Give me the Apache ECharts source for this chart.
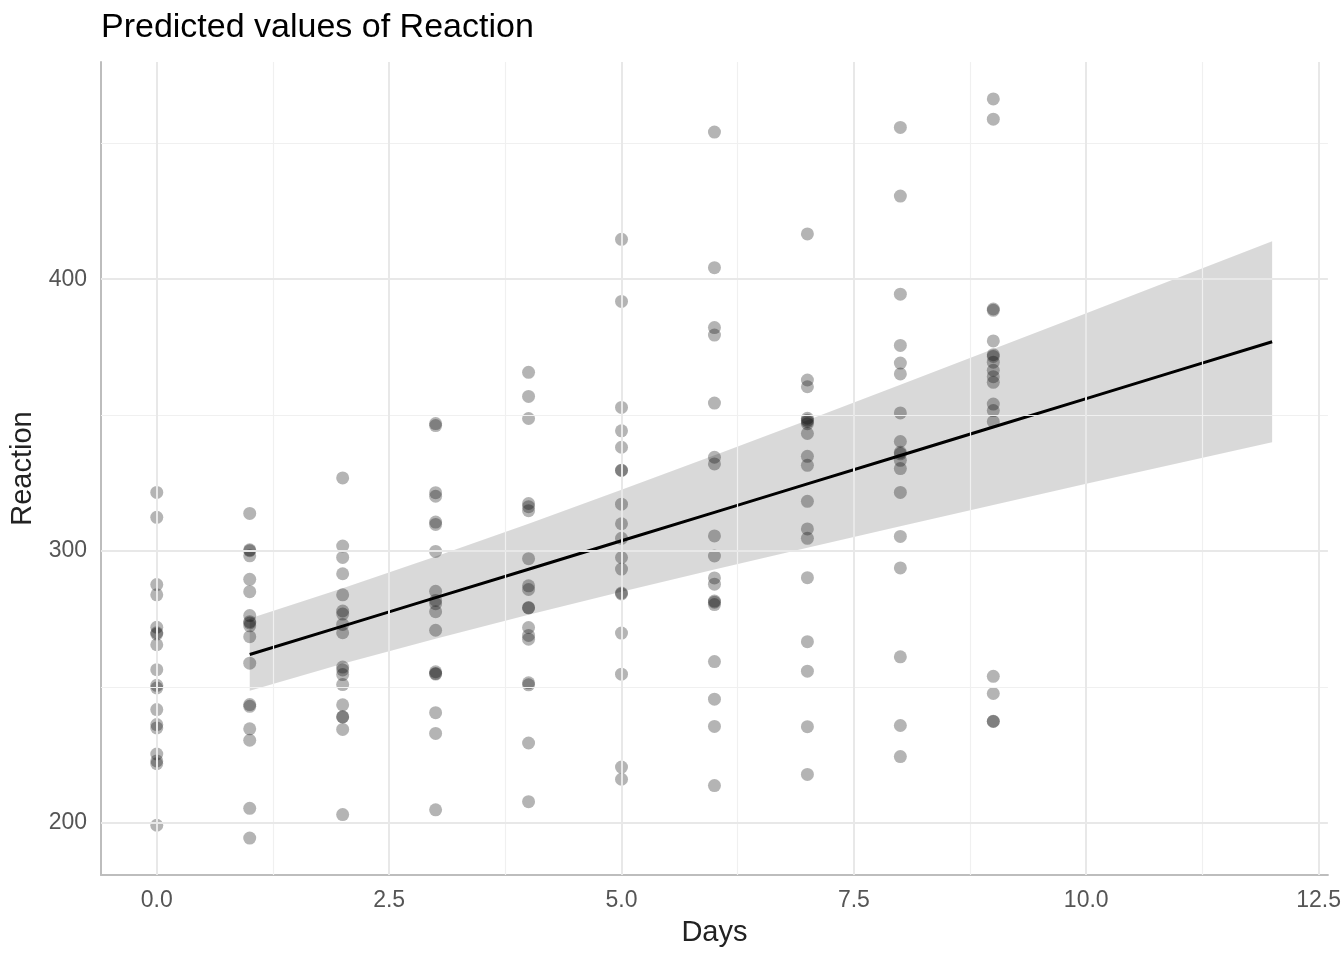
<!DOCTYPE html>
<html>
<head>
<meta charset="utf-8">
<script src="https://cdn.jsdelivr.net/npm/echarts@6/dist/echarts.min.js"></script>
<style>
html,body{margin:0;padding:0;background:#fff;}
#chart{width:1344px;height:960px;}
</style>
</head>
<body>
<div id="chart"></div>
<script>
// Observed data: Reaction per subject, days 0..9
const days = [0,1,2,3,4,5,6,7,8,9];
const subjects = ['308','309','310','330','331','332','333','334','335','337','349','350','351','352','369','370','371','372'];
const reaction = [
  [249.56,258.70,250.80,321.44,356.85,414.69,382.20,290.15,430.59,466.35],
  [222.73,205.27,202.98,204.71,207.72,215.96,213.63,217.73,224.30,237.31],
  [199.05,194.33,234.32,232.84,229.31,220.46,235.42,255.75,261.01,247.52],
  [321.54,300.40,283.86,285.13,285.80,297.59,280.24,318.26,305.35,354.05],
  [287.61,285.00,301.82,320.12,316.28,293.32,290.08,334.82,293.75,371.58],
  [234.86,242.81,272.96,309.77,317.46,310.00,454.16,346.83,330.30,253.86],
  [283.84,289.56,276.77,299.81,297.17,338.17,332.03,348.84,333.36,362.04],
  [265.47,276.20,243.36,254.67,279.02,284.19,305.52,331.52,335.75,377.30],
  [241.61,273.95,254.49,270.80,251.45,254.64,245.45,235.31,235.75,237.25],
  [312.37,313.81,291.61,346.12,365.73,391.84,404.26,416.69,455.86,458.92],
  [236.10,230.32,238.93,254.92,250.71,269.77,281.56,308.10,336.28,351.65],
  [256.30,243.45,256.20,255.53,268.92,329.72,379.44,362.92,394.49,389.05],
  [250.53,300.06,269.89,280.59,271.83,304.63,287.75,266.60,321.54,347.57],
  [221.68,298.19,326.88,346.86,348.74,352.83,354.43,360.43,375.64,388.54],
  [271.92,268.44,257.24,277.66,314.82,317.21,298.14,348.12,340.28,366.51],
  [225.26,234.52,238.90,240.47,267.54,344.19,281.15,347.59,365.16,372.23],
  [269.88,272.44,277.90,281.79,279.17,284.51,259.27,304.63,350.78,369.47],
  [269.41,273.47,297.60,310.63,287.17,329.61,334.48,343.22,369.14,364.12]
];
// Predicted values and confidence band
const predDays = [1,2,3,4,5,6,7,8,9,10,11,12];
const predicted = [261.87,272.34,282.81,293.27,303.74,314.21,324.67,335.14,345.61,356.08,366.54,377.01];
const ciLow  = [248.57,258.44,267.71,276.50,284.96,293.18,301.21,309.12,316.94,324.69,332.38,340.04];
const ciHigh = [275.17,286.24,297.91,310.04,322.52,335.24,348.13,361.16,374.28,387.47,400.70,413.98];
// Axis ticks
const xTicks = [0,2.5,5,7.5,10,12.5];
const xMinor = [1.25,3.75,6.25,8.75,11.25];
const yTicks = [200,300,400];
const yMinor = [250,350,450];

const points = [];
reaction.forEach(row => row.forEach((v,i) => points.push([days[i], v])));
const bandData = predDays.map((d,i) => [d, ciLow[i], ciHigh[i]]);
const lineData = predDays.map((d,i) => [d, predicted[i]]);

const majorStyle = {color:'#e8e8e8', width:2, type:'solid'};
const minorStyle = {color:'#f0f0f0', width:1.2, type:'solid'};
const gridLines = []
  .concat(xMinor.map(v => ({xAxis:v, lineStyle:minorStyle})))
  .concat(yMinor.map(v => ({yAxis:v, lineStyle:minorStyle})))
  .concat(xTicks.map(v => ({xAxis:v, lineStyle:majorStyle})))
  .concat(yTicks.map(v => ({yAxis:v, lineStyle:majorStyle})));

const FONT = 'Liberation Sans, Arial, sans-serif';
const chart = echarts.init(document.getElementById('chart'), null, {renderer:'canvas'});
chart.setOption({
  backgroundColor:'#ffffff',
  animation:false,
  textStyle:{fontFamily:FONT},
  title:{
    text:'Predicted values of Reaction',
    left:101, top:11, padding:0,
    textStyle:{fontSize:34, fontWeight:'normal', color:'#000', fontFamily:FONT}
  },
  grid:{left:101, right:15, top:62, bottom:85, containLabel:false},
  xAxis:{
    type:'value', min:-0.6, max:12.6,
    name:'Days', nameLocation:'middle', nameGap:43,
    nameTextStyle:{fontSize:29, color:'#222', fontFamily:FONT},
    axisLine:{show:true, onZero:false, lineStyle:{color:'#bdbdbd', width:2}},
    axisTick:{show:false},
    splitLine:{show:false},
    axisLabel:{customValues:xTicks, formatter:v => v.toFixed(1), fontSize:23, color:'#555', margin:14, fontFamily:FONT}
  },
  yAxis:{
    type:'value', min:180.73, max:479.95,
    name:'Reaction', nameLocation:'middle', nameGap:60, nameRotate:90,
    nameTextStyle:{fontSize:29, color:'#222', fontFamily:FONT},
    axisLine:{show:true, onZero:false, lineStyle:{color:'#bdbdbd', width:2}},
    axisTick:{show:false},
    splitLine:{show:false},
    axisLabel:{customValues:yTicks, fontSize:23, color:'#555', margin:14, fontFamily:FONT}
  },
  series:[
    {
      type:'line', data:[], silent:true, z:1,
      markLine:{silent:true, symbol:'none', label:{show:false}, animation:false, data:gridLines}
    },
    {
      type:'scatter', data:points, symbolSize:13, z:2,
      itemStyle:{color:'rgba(0,0,0,0.37)'}
    },
    {
      type:'custom', z:3, silent:true,
      data:bandData,
      renderItem:function(params, api){
        if (params.dataIndex !== 0) return null;
        const upper = bandData.map(d => api.coord([d[0], d[2]]));
        const lower = bandData.map(d => api.coord([d[0], d[1]])).reverse();
        return {type:'polygon', shape:{points:upper.concat(lower)}, style:{fill:'rgba(0,0,0,0.15)'}};
      }
    },
    {
      type:'line', data:lineData, z:4, symbol:'none', silent:true,
      lineStyle:{color:'#000', width:3}
    }
  ]
});
</script>
</body>
</html>
